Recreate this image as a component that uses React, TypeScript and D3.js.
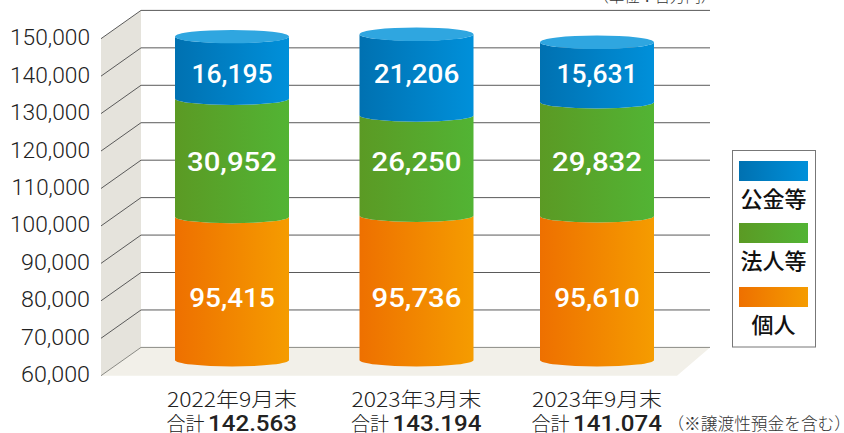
import React from "react";
import * as d3 from "d3";

const categories = ["2022年9月末", "2023年3月末", "2023年9月末"];
const totals = ["142.563", "143.194", "141.074"];
const kojin = [95415, 95736, 95610];
const hojin = [30952, 26250, 29832];
const kokin = [16195, 21206, 15631];
const axisTicks = [60000, 70000, 80000, 90000, 100000, 110000, 120000, 130000, 140000, 150000];
const legendLabels = ["公金等", "法人等", "個人"];
const unitLabel = "（単位：百万円）";
const noteLabel = "（※譲渡性預金を含む）";

const W = 844, H = 433;
const RX = 57, RY = 6.5;
const DX = 40, DY = 28.3;
const yFront = d3.scaleLinear().domain([60000, 150000]).range([375.7, 38.7]);
const xFront = 101;
const xBack = xFront + DX;
const xRight = 710;
const yCyl = d3.scaleLinear().domain([57900, 150000]).range([360, 8.2]);
const xCentre = d3.scaleOrdinal<string, number>().domain(categories).range([232, 416.5, 597]);

const fmt = d3.format(",");
const SANS = "Roboto, 'Noto Sans', sans-serif";
const JP = "'Noto Sans CJK JP', sans-serif";

// The reference face has proportional figures: "1" is narrower than the other digits.
function textWidth(s: string, digit: number, one: number, comma: number) {
  return d3.sum(Array.from(s), (ch) => (ch === "1" ? one : ch === "," ? comma : digit));
}

const series = [
  { key: "orange", values: kojin, grad: "gOrange", stops: ["#ee7000", "#f59c00"], labelY: 307, legendY: 287, legendText: 333, legend: legendLabels[2] },
  { key: "green", values: hojin, grad: "gGreen", stops: ["#5b9a24", "#52b434"], labelY: 170.5, legendY: 223, legendText: 269, legend: legendLabels[1] },
  { key: "blue", values: kokin, grad: "gBlue", stops: ["#0071b1", "#0090da"], labelY: 82.5, legendY: 161, legendText: 207, legend: legendLabels[0] },
];

function segmentPath(cx: number, top: number, bottom: number) {
  const l = cx - RX, r = cx + RX;
  return `M${l},${top}L${l},${bottom}A${RX},${RY} 0 0 0 ${r},${bottom}L${r},${top}A${RX},${RY} 0 0 1 ${l},${top}Z`;
}

export default function App() {
  return (
    <svg width={W} height={H} viewBox={`0 0 ${W} ${H}`} style={{ position: "absolute", left: 0, top: 0, background: "#fff" }}>
      <defs>
        {series.map((s) => (
          <linearGradient key={s.grad} id={s.grad} x1="0" x2="1" y1="0" y2="0">
            <stop offset="0" stopColor={s.stops[0]} />
            <stop offset="1" stopColor={s.stops[1]} />
          </linearGradient>
        ))}
      </defs>

      <polygon
        points={`${xFront},${yFront(150000)} ${xBack},${yFront(150000) - DY} ${xBack},${yFront(60000) - DY} ${xFront},${yFront(60000)}`}
        fill="#e5e3dc"
      />
      <polygon
        points={`${xBack},${yFront(60000) - DY} ${xRight},${yFront(60000) - DY} 677,${yFront(60000)} ${xFront},${yFront(60000)}`}
        fill="#f2f0e9"
      />

      {axisTicks.map((t) => {
        const y = yFront(t);
        const label = fmt(t);
        return (
          <g key={t}>
            <path
              d={`M${xFront},${y}L${xBack},${y - DY}L${xRight},${y - DY}`}
              fill="none"
              stroke={t === 60000 ? "#8a8a84" : "#5a5a5a"}
              strokeWidth={1}
            />
            <text x={90} y={y + 6.5} textAnchor="end" fontFamily={SANS} fontWeight={300} fontSize={22} fill="#222" textLength={textWidth(label, 12.4, 11, 7)} lengthAdjust="spacingAndGlyphs">
              {label}
            </text>
          </g>
        );
      })}

      {categories.map((c, i) => {
        const cx = xCentre(c);
        let acc = 0;
        let prevTop = yCyl(yCyl.domain()[0]);
        const segs = series.map((s) => {
          acc += s.values[i];
          const top = yCyl(acc);
          const seg = { s, top, bottom: prevTop };
          prevTop = top;
          return seg;
        });
        return (
          <g key={c}>
            {segs.map(({ s, top, bottom }) => (
              <path key={s.key} d={segmentPath(cx, top, bottom)} fill={`url(#${s.grad})`} />
            ))}
            <ellipse cx={cx} cy={prevTop} rx={RX} ry={RY + 0.2} fill="#2fa6e0" />
            {segs.map(({ s }) => {
              const label = fmt(s.values[i]);
              return (
                <text key={s.key} x={cx} y={s.labelY} textAnchor="middle" fontFamily={SANS} fontWeight={500} fontSize={25} fill="#fff" textLength={textWidth(label, 16.4, 12, 8)} lengthAdjust="spacingAndGlyphs">
                  {label}
                </text>
              );
            })}
            <text x={cx} y={407} textAnchor="middle" fontFamily={JP} fontWeight={300} fontSize={20} fill="#222" textLength={130} lengthAdjust="spacingAndGlyphs">
              {c}
            </text>
            <text x={cx - 65.5} y={431} fontFamily={JP} fontWeight={300} fontSize={19} fill="#222">
              合計
            </text>
            <text x={cx + 65} y={431} textAnchor="end" fontFamily={SANS} fontWeight={500} fontSize={22} fill="#222" textLength={89} lengthAdjust="spacingAndGlyphs">
              {totals[i]}
            </text>
          </g>
        );
      })}

      <text x={716} y={1.5} textAnchor="end" fontFamily={JP} fontWeight={300} fontSize={15.3} fill="#333">
        {unitLabel}
      </text>
      <text x={851} y={430} textAnchor="end" fontFamily={JP} fontWeight={300} fontSize={16.7} fill="#333">
        {noteLabel}
      </text>

      <rect x={732.5} y={150.5} width={83} height={196.5} fill="#fff" stroke="#777" strokeWidth={1} />
      {series.map((s) => (
        <g key={s.key}>
          <rect x={739} y={s.legendY} width={69} height={20} fill={`url(#${s.grad})`} />
          <text x={773.5} y={s.legendText} textAnchor="middle" fontFamily={JP} fontWeight={500} fontSize={22} fill="#111">
            {s.legend}
          </text>
        </g>
      ))}
    </svg>
  );
}
